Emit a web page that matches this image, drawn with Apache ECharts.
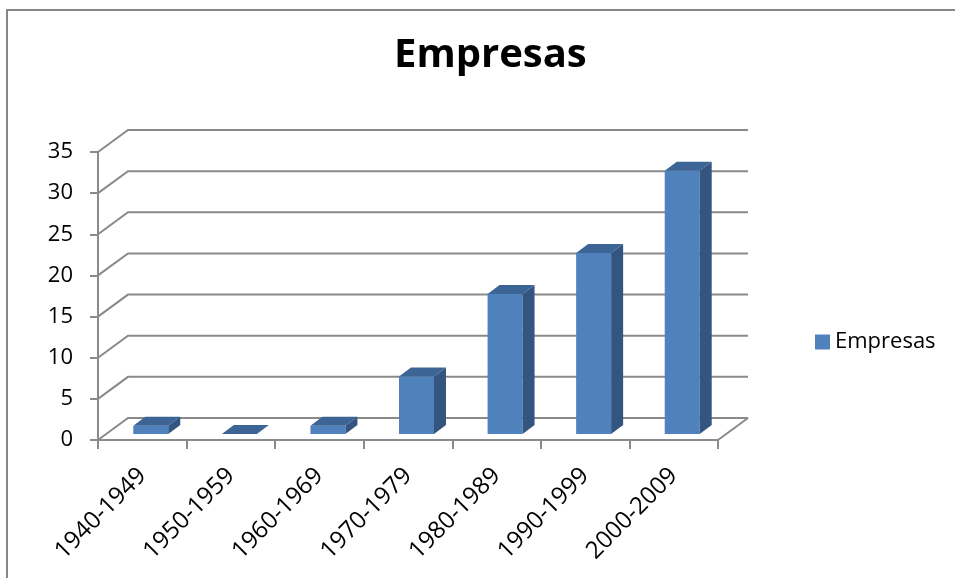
<!DOCTYPE html>
<html>
<head>
<meta charset="utf-8">
<script src="https://cdn.jsdelivr.net/npm/echarts@6/dist/echarts.min.js"></script>
<style>html,body{margin:0;padding:0;background:#fff}#c{width:955px;height:578px}</style>
</head>
<body>
<div id="c"></div>
<script>
const categories = ['1940-1949','1950-1959','1960-1969','1970-1979','1980-1989','1990-1999','2000-2009'];
const empresas = [1, 0, 1, 7, 17, 22, 32];
const yTicks = [0, 5, 10, 15, 20, 25, 30, 35];
const seriesName = 'Empresas';
const titleText = 'Empresas';

const FONT = '"Open Sans", sans-serif';
const GRID_COLOR = '#8a8a8a';
const WALL_DX = 30, WALL_DY = -22;

const chart = echarts.init(document.getElementById('c'), null, {renderer: 'canvas'});

const option = {
  backgroundColor: '#ffffff',
  animation: false,
  title: {
    text: titleText, left: 394, top: 36, padding: 0,
    textStyle: {fontFamily: FONT, fontWeight: 'bold', fontSize: 40, color: '#000'}
  },
  legend: {
    left: 810, top: 326, icon: 'rect', itemWidth: 15, itemHeight: 15, itemGap: 8,
    textStyle: {fontFamily: FONT, fontSize: 22, color: '#000'},
    data: [{name: seriesName, itemStyle: {color: '#4f81bd'}}]
  },
  graphic: [{
    type: 'rect', shape: {x: 7, y: 10, width: 1000, height: 700},
    style: {fill: 'none', stroke: '#868686', lineWidth: 2}, silent: true, z: -10
  }],
  grid: {left: 98, right: 237, top: 152, bottom: 138, containLabel: false, outerBoundsMode: 'none'},
  xAxis: {
    type: 'category', data: categories, boundaryGap: true,
    axisLine: {show: true, lineStyle: {color: GRID_COLOR, width: 2}},
    axisTick: {show: true, length: 9, alignWithLabel: false, lineStyle: {color: GRID_COLOR, width: 2}},
    axisLabel: {rotate: 45, margin: 32, fontFamily: FONT, fontSize: 24, color: '#000', interval: 0},
    splitLine: {show: false}
  },
  yAxis: {
    type: 'value', min: 0, max: 35, interval: 5,
    axisLine: {show: true, lineStyle: {color: GRID_COLOR, width: 2}},
    axisTick: {show: true, length: 8, lineStyle: {color: GRID_COLOR, width: 2}},
    axisLabel: {margin: 25, fontFamily: FONT, fontSize: 22, color: '#000'},
    splitLine: {show: false}
  },
  series: [
    {
      type: 'custom', name: '_walls', silent: true, z: 1,
      data: yTicks.map(v => [0, v]),
      renderItem: function (params, api) {
        const cs = params.coordSys;
        const y = api.coord([0, api.value(1)])[1];
        const left = cs.x, right = cs.x + cs.width;
        const children = [{
          type: 'polyline',
          shape: {points: [[left, y], [left + WALL_DX, y + WALL_DY], [right + WALL_DX, y + WALL_DY]]},
          style: {stroke: GRID_COLOR, lineWidth: 2, fill: 'none'}
        }];
        if (api.value(1) === 0) {
          children.push({
            type: 'line',
            shape: {x1: right, y1: y, x2: right + WALL_DX, y2: y + WALL_DY},
            style: {stroke: GRID_COLOR, lineWidth: 2}
          });
        }
        return {type: 'group', children: children};
      },
      tooltip: {show: false}
    },
    {
      type: 'custom', name: seriesName, z: 5,
      itemStyle: {color: '#4f81bd'},
      data: empresas.map((v, i) => [i, v]),
      encode: {x: 0, y: 1},
      renderItem: function (params, api) {
        const i = api.value(0), v = api.value(1);
        const base = api.coord([i, 0]);
        const top = api.coord([i, v]);
        const band = api.size([1, 0])[0];
        const w = band * 0.395;
        const shiftX = 8.5, shiftY = -6;
        const ddx = 12, ddy = -9;
        const x0 = base[0] - w / 2 + shiftX, x1 = x0 + w;
        const yb = base[1] + shiftY, yt = top[1] + shiftY;
        const children = [];
        if (yb - yt > 0.5) {
          children.push({type: 'rect', shape: {x: x0, y: yt, width: w, height: yb - yt}, style: {fill: '#4f81bd'}});
          children.push({type: 'polygon', shape: {points: [[x1, yb], [x1, yt], [x1 + ddx, yt + ddy], [x1 + ddx, yb + ddy]]}, style: {fill: '#34557f'}});
        }
        children.push({type: 'polygon', shape: {points: [[x0, yt], [x1, yt], [x1 + ddx, yt + ddy], [x0 + ddx, yt + ddy]]}, style: {fill: '#3c6494'}});
        return {type: 'group', children: children};
      }
    }
  ]
};
chart.setOption(option);
</script>
</body>
</html>
